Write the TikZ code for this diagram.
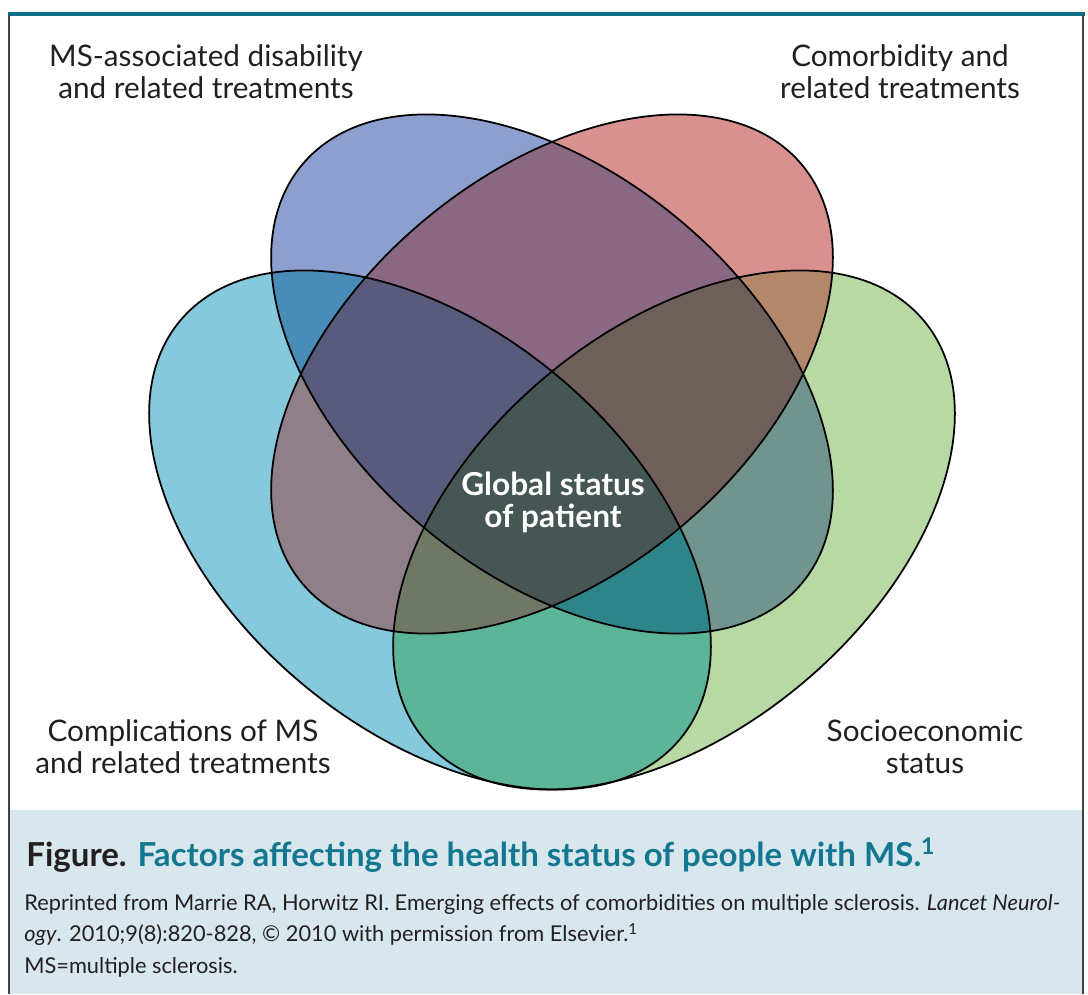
\documentclass[tikz,border=0pt]{standalone}
\usepackage{fontspec}
\setmainfont{Lato}
\definecolor{cB}{HTML}{8C9FCE}
\definecolor{cR}{HTML}{D8918E}
\definecolor{cC}{HTML}{86C8DC}
\definecolor{cG}{HTML}{B8D9A4}
\definecolor{cBR}{HTML}{8A6783}
\definecolor{cBC}{HTML}{4A8CB8}
\definecolor{cBG}{HTML}{71948F}
\definecolor{cRC}{HTML}{8E7F89}
\definecolor{cRG}{HTML}{B3886A}
\definecolor{cCG}{HTML}{5DB599}
\definecolor{cBRC}{HTML}{585B7B}
\definecolor{cBRG}{HTML}{6E5F5B}
\definecolor{cBCG}{HTML}{2E8589}
\definecolor{cRCG}{HTML}{6F7765}
\definecolor{cAll}{HTML}{465654}
\definecolor{frameteal}{HTML}{0E7088}
\definecolor{titleteal}{HTML}{13788F}
\definecolor{capbg}{HTML}{D8E7ED}
\definecolor{ink}{HTML}{231F20}
% the four ellipses: same size, the middle pair share one centre
\newcommand\RadA{6.52cm}
\newcommand\RadB{4cm}
\newcommand\shpB[1]{\path[#1,rotate around={-40:(552,374)}] (552,374) ellipse [x radius=\RadA,y radius=\RadB];}
\newcommand\shpR[1]{\path[#1,rotate around={40:(552,374)}] (552,374) ellipse [x radius=\RadA,y radius=\RadB];}
\newcommand\shpC[1]{\path[#1,rotate around={-40:(430,530)}] (430,530) ellipse [x radius=\RadA,y radius=\RadB];}
\newcommand\shpG[1]{\path[#1,rotate around={40:(674,530)}] (674,530) ellipse [x radius=\RadA,y radius=\RadB];}
\begin{document}
\begin{tikzpicture}[x=0.02cm,y=-0.02cm,
  lbl/.style={text=ink,align=center,font=\fontsize{16.9pt}{18.2pt}\selectfont,inner sep=0pt},
  centrelbl/.style={text=white,align=center,font=\bfseries\fontsize{18pt}{18.2pt}\selectfont,inner sep=0pt},
  outline/.style={draw=black,line width=1pt}]
\useasboundingbox (0,0) rectangle (1088,994);

% caption panel and frame
\fill[capbg] (9,810) rectangle (1083,994);
\draw[frameteal,line width=1.8pt] (8,14) -- (1085,14);
\draw[ink!85,line width=1pt] (9,15) -- (9,994);
\draw[ink!85,line width=1pt] (1083,15) -- (1083,994);

% single sets
\shpB{fill=cB}
\shpR{fill=cR}
\shpC{fill=cC}
\shpG{fill=cG}
% pairs
\begin{scope}\shpB{clip}\shpR{fill=cBR}\end{scope}
\begin{scope}\shpB{clip}\shpC{fill=cBC}\end{scope}
\begin{scope}\shpB{clip}\shpG{fill=cBG}\end{scope}
\begin{scope}\shpR{clip}\shpC{fill=cRC}\end{scope}
\begin{scope}\shpR{clip}\shpG{fill=cRG}\end{scope}
\begin{scope}\shpC{clip}\shpG{fill=cCG}\end{scope}
% triples
\begin{scope}\shpB{clip}\shpR{clip}\shpC{fill=cBRC}\end{scope}
\begin{scope}\shpB{clip}\shpR{clip}\shpG{fill=cBRG}\end{scope}
\begin{scope}\shpB{clip}\shpC{clip}\shpG{fill=cBCG}\end{scope}
\begin{scope}\shpR{clip}\shpC{clip}\shpG{fill=cRCG}\end{scope}
% all four
\begin{scope}\shpB{clip}\shpR{clip}\shpC{clip}\shpG{fill=cAll}\end{scope}
% outlines
\shpB{outline}
\shpR{outline}
\shpC{outline}
\shpG{outline}

% labels
\node[lbl,anchor=base] (ldis) at (206,98) {MS-associated disability\\and related treatments};
\node[lbl,anchor=base] (lcom) at (900,98) {Comorbidity and\\related treatments};
\node[lbl,anchor=base] (lcomp) at (183,773) {Complications of MS\\and related treatments};
\node[lbl,anchor=base] (lsoc) at (925,773) {Socioeconomic\\status};
\node[centrelbl,anchor=base] (lglob) at (553,527) {Global status\\of patient};

% caption
\node[anchor=base west,inner sep=0pt,font=\bfseries\fontsize{18.8pt}{20pt}\selectfont,text=ink] (ctitle) at (26,866)
  {Figure. \textcolor{titleteal}{Factors affecting the health status of people with MS.\textsuperscript{1}}};
\node[anchor=base west,inner sep=0pt,align=left,text=ink,font=\fontsize{12.4pt}{17.8pt}\selectfont] (cnote) at (24,973)
  {Reprinted from Marrie RA, Horwitz RI. Emerging effects of comorbidities on multiple sclerosis. \textit{Lancet Neurol-}\\
   \textit{ogy}. 2010;9(8):820-828, \textcopyright{} 2010 with permission from Elsevier.\textsuperscript{1}\\
   MS=multiple sclerosis.};
\end{tikzpicture}
\end{document}
